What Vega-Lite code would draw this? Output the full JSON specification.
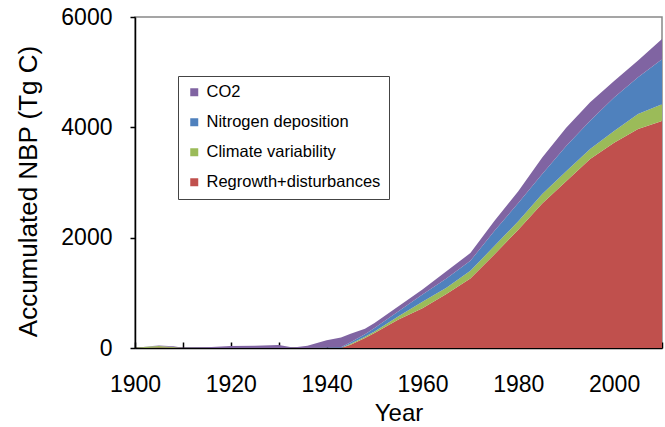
{
  "$schema": "https://vega.github.io/schema/vega-lite/v6.json",
  "width": 527,
  "height": 331,
  "autosize": "none",
  "padding": {"left": 135, "top": 17, "right": 3, "bottom": 79},
  "background": "white",
  "config": {
    "view": {"stroke": "#888888", "strokeWidth": 1.5},
    "font": "Liberation Sans"
  },
  "data": {
    "values": [
      {"Year": 1900, "R": 0, "G": 0, "B": 0, "P": 0},
      {"Year": 1903, "R": 5, "G": 20, "B": 0, "P": 5},
      {"Year": 1905, "R": 10, "G": 25, "B": 0, "P": 10},
      {"Year": 1908, "R": 5, "G": 15, "B": 0, "P": 10},
      {"Year": 1910, "R": 0, "G": 0, "B": 0, "P": 5},
      {"Year": 1915, "R": 0, "G": 0, "B": 0, "P": 15},
      {"Year": 1920, "R": 0, "G": 0, "B": 0, "P": 35},
      {"Year": 1925, "R": 0, "G": 0, "B": 0, "P": 40},
      {"Year": 1930, "R": 0, "G": 0, "B": 0, "P": 55},
      {"Year": 1933, "R": 0, "G": 0, "B": 0, "P": 10},
      {"Year": 1936, "R": 0, "G": 0, "B": 0, "P": 40},
      {"Year": 1940, "R": 0, "G": 0, "B": 10, "P": 130},
      {"Year": 1943, "R": 0, "G": 0, "B": 15, "P": 175},
      {"Year": 1945, "R": 60, "G": 15, "B": 30, "P": 155},
      {"Year": 1948, "R": 180, "G": 25, "B": 45, "P": 100},
      {"Year": 1950, "R": 270, "G": 30, "B": 64, "P": 91},
      {"Year": 1955, "R": 515, "G": 60, "B": 90, "P": 91},
      {"Year": 1960, "R": 720, "G": 120, "B": 130, "P": 90},
      {"Year": 1965, "R": 980, "G": 110, "B": 170, "P": 133},
      {"Year": 1970, "R": 1260, "G": 140, "B": 180, "P": 141},
      {"Year": 1975, "R": 1696, "G": 151, "B": 273, "P": 182},
      {"Year": 1980, "R": 2145, "G": 152, "B": 333, "P": 212},
      {"Year": 1985, "R": 2620, "G": 170, "B": 363, "P": 301},
      {"Year": 1990, "R": 3024, "G": 181, "B": 455, "P": 334},
      {"Year": 1995, "R": 3424, "G": 181, "B": 515, "P": 334},
      {"Year": 2000, "R": 3721, "G": 212, "B": 606, "P": 303},
      {"Year": 2005, "R": 3969, "G": 272, "B": 667, "P": 303},
      {"Year": 2010, "R": 4115, "G": 303, "B": 818, "P": 364}
    ]
  },
  "transform": [
    {"fold": ["R", "G", "B", "P"], "as": ["key", "value"]},
    {"lookup": "key", "from": {"data": {"values": [
      {"key": "R", "component": "Regrowth+disturbances", "rank": 1},
      {"key": "G", "component": "Climate variability", "rank": 2},
      {"key": "B", "component": "Nitrogen deposition", "rank": 3},
      {"key": "P", "component": "CO2", "rank": 4}
    ]}, "key": "key", "fields": ["component", "rank"]}}
  ],
  "mark": {"type": "area", "interpolate": "linear", "clip": true},
  "encoding": {
    "x": {
      "field": "Year", "type": "quantitative",
      "scale": {"domain": [1900, 2010], "nice": false, "zero": false},
      "axis": {
        "title": "Year",
        "values": [1900, 1910, 1920, 1930, 1940, 1950, 1960, 1970, 1980, 1990, 2000, 2010],
        "labelExpr": "datum.value % 20 == 0 ? datum.label : ''",
        "format": "d",
        "grid": false,
        "domainColor": "#000000",
        "domainWidth": 1.5,
        "tickColor": "#000000",
        "tickWidth": 1.5,
        "tickSize": -6,
        "labelFontSize": 23,
        "labelColor": "#000000",
        "labelPadding": 31,
        "labelFlush": false,
        "labelOverlap": false,
        "titleFontSize": 24,
        "titleFontWeight": "normal",
        "titleColor": "#000000",
        "titlePadding": 5
      }
    },
    "y": {
      "field": "value", "type": "quantitative", "stack": "zero",
      "scale": {"domain": [0, 6000], "nice": false},
      "axis": {
        "title": "Accumulated NBP (Tg C)",
        "values": [0, 2000, 4000, 6000],
        "format": "d",
        "grid": false,
        "domainColor": "#000000",
        "domainWidth": 1.5,
        "tickColor": "#000000",
        "tickWidth": 1.5,
        "tickSize": 5,
        "labelFontSize": 23,
        "labelColor": "#000000",
        "labelPadding": 18,
        "labelFlush": false,
        "titleFontSize": 26,
        "titleFontWeight": "normal",
        "titleColor": "#000000",
        "titleAngle": -90,
        "titleAlign": "center",
        "titleBaseline": "middle",
        "titleX": -107,
        "titleY": 174
      }
    },
    "order": {"field": "rank", "type": "quantitative", "sort": "ascending"},
    "color": {
      "field": "component", "type": "nominal",
      "scale": {
        "domain": ["CO2", "Nitrogen deposition", "Climate variability", "Regrowth+disturbances"],
        "range": ["#8064A2", "#4F81BD", "#9BBB59", "#C0504D"]
      },
      "legend": {
        "title": null,
        "orient": "none",
        "legendX": 43,
        "legendY": 59,
        "strokeColor": "#444444",
        "fillColor": "white",
        "padding": 8,
        "symbolType": "square",
        "symbolSize": 64,
        "symbolStrokeWidth": 0,
        "labelFontSize": 16.5,
        "labelColor": "#000000",
        "labelOffset": 4,
        "rowPadding": 13,
        "labelLimit": 300
      }
    }
  }
}
